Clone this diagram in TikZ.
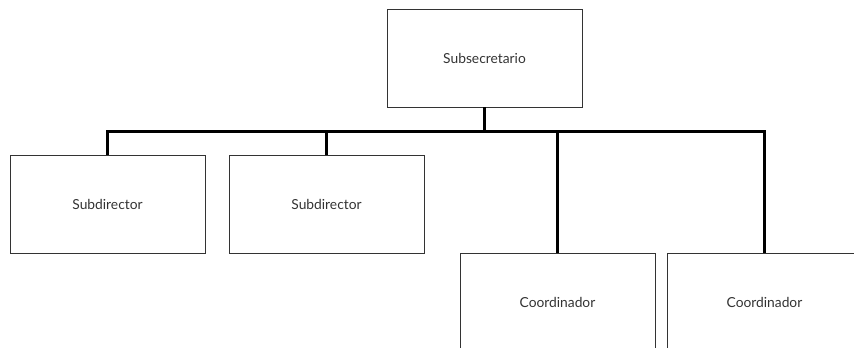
\documentclass[tikz,border=0pt]{standalone}
\usepackage{fontspec}
\setmainfont{Lato}
\begin{document}
\begin{tikzpicture}[x=1pt,y=-1pt,
  orgbox/.style={draw=black!80, line width=0.8pt, minimum width=195pt, minimum height=98pt, inner sep=0pt, font=\fontsize{13.8}{16}\selectfont, text=black!80},
  link/.style={line width=3pt, black}]
\useasboundingbox (0,0) rectangle (854,348);
\clip (0,0) rectangle (854,348);
\node[orgbox] (top) at (484.5,58) {Subsecretario};
\node[orgbox] (s1) at (107.5,204) {Subdirector};
\node[orgbox] (s2) at (326.5,204) {Subdirector};
\node[orgbox] (c1) at (557.5,302) {Coordinador};
\node[orgbox] (c2) at (764.5,302) {Coordinador};
\coordinate (bar) at (0,131);
\draw[link] (top.south) -- (top.south |- bar);
\draw[link] (s1.north) -- (s1.north |- bar) -- (c2.north |- bar) -- (c2.north);
\draw[link] (s2.north |- bar) -- (s2.north);
\draw[link] (c1.north |- bar) -- (c1.north);
\end{tikzpicture}
\end{document}
